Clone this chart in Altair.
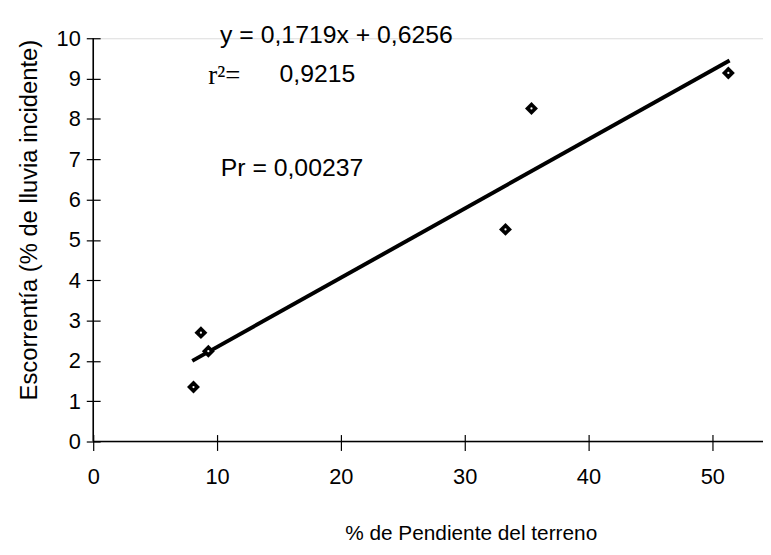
import altair as alt
import pandas as pd

# data
pend = [8.1, 8.7, 9.3, 33.3, 35.4, 51.3]
escor = [1.35, 2.7, 2.24, 5.26, 8.26, 9.14]
fit_x = [8.0, 51.4]
fit_y = [2.0, 9.45]
x_ticks = [0, 10, 20, 30, 40, 50]
y_ticks = [0, 1, 2, 3, 4, 5, 6, 7, 8, 9, 10]

eq_text = ["y = 0,1719x + 0,6256", "0,9215", "Pr = 0,00237"]
eq_x = [10.25, 15.05, 10.3]
eq_y = [10.07, 9.11, 6.78]

pts = pd.DataFrame({"x": pend, "y": escor})
fit = pd.DataFrame({"x": fit_x, "y": fit_y})
ann = pd.DataFrame({"x": eq_x, "y": eq_y, "t": eq_text})

FONT = "Liberation Sans"
XMAX = 54.1
xs = alt.Scale(domain=[0, XMAX], nice=False, zero=False)
ys = alt.Scale(domain=[0, 10], nice=False)

xaxis = alt.Axis(values=x_ticks, domain=False, offset=-7, tickSize=16, tickColor="black",
                 tickWidth=1.2, labelPadding=16, labelFont=FONT, labelFontSize=22,
                 labelColor="black", grid=False, title="% de Pendiente del terreno",
                 titleFont=FONT, titleFontSize=21, titleFontWeight="normal",
                 titleColor="black", titlePadding=36, titleX=381, labelFlush=False)
yaxis = alt.Axis(values=y_ticks, domain=False, offset=-7, tickSize=14, tickColor="black",
                 tickWidth=1.2, labelPadding=6, labelFont=FONT, labelFontSize=22,
                 labelColor="black", grid=False, title="Escorrentía (% de lluvia incidente)",
                 titleFont=FONT, titleFontSize=24, titleFontWeight="normal",
                 titleColor="black", titlePadding=15, titleY=183, labelFlush=False)

base_pts = alt.Chart(pts).mark_point(shape="diamond", filled=True, color="black", size=170, opacity=1).encode(
    x=alt.X("x:Q", scale=xs, axis=xaxis),
    y=alt.Y("y:Q", scale=ys, axis=yaxis),
)
dots = alt.Chart(pts).mark_point(shape="circle", filled=True, color="white", size=5, opacity=1).encode(
    x=alt.X("x:Q", scale=xs), y=alt.Y("y:Q", scale=ys)
)
line = alt.Chart(fit).mark_line(color="black", strokeWidth=4).encode(
    x=alt.X("x:Q", scale=xs), y=alt.Y("y:Q", scale=ys)
)
x_dom = alt.Chart(pd.DataFrame({"a": [0]})).mark_rule(color="black", strokeWidth=1.6).encode(
    x=alt.datum(0, scale=xs), x2=alt.datum(XMAX), y=alt.datum(0, scale=ys)
)
y_dom = alt.Chart(pd.DataFrame({"a": [0]})).mark_rule(color="black", strokeWidth=1.6).encode(
    x=alt.datum(0, scale=xs), y=alt.datum(0, scale=ys), y2=alt.datum(10)
)

txt = alt.Chart(ann).mark_text(font=FONT, fontSize=25, align="left", baseline="middle", color="black").encode(
    x=alt.X("x:Q", scale=xs), y=alt.Y("y:Q", scale=ys), text="t:N"
)
r2 = alt.Chart(pd.DataFrame({"x": [9.3], "y": [9.05], "t": ["r²="]})).mark_text(
    font="Liberation Serif", fontSize=27, align="left", baseline="middle", color="black").encode(
    x=alt.X("x:Q", scale=xs), y=alt.Y("y:Q", scale=ys), text="t:N"
)

chart = alt.layer(x_dom, y_dom, line, base_pts, dots, txt, r2).properties(
    width=676, height=407,
    autosize=alt.AutoSizeParams(type="none"),
    padding={"left": 86, "top": 28, "right": 0, "bottom": 111},
).configure_view(stroke=None).configure(background="white")

chart.save("out.html", embed_options={"renderer": "svg", "actions": False})
